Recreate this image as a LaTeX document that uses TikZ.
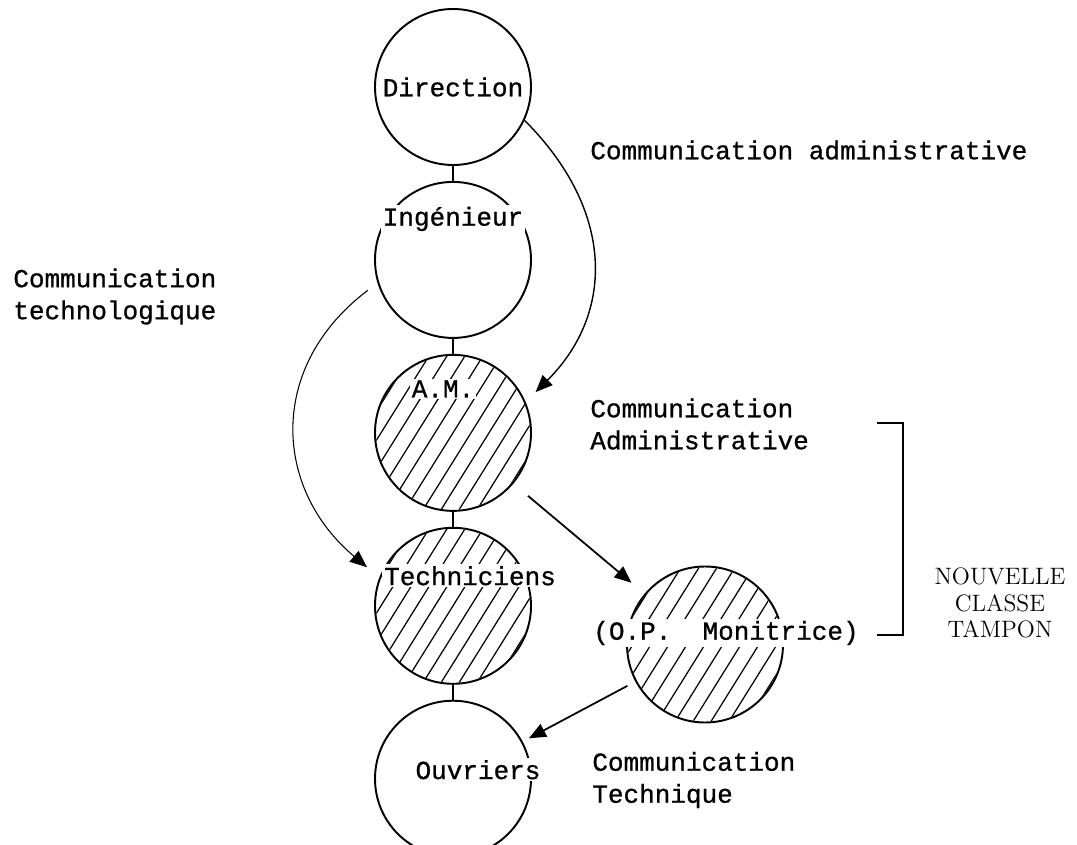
\documentclass[tikz,border=0pt]{standalone}
\usepackage{fontspec}
\usepackage{tikz}
\usetikzlibrary{positioning, arrows.meta}
\newfontfamily\machine[FakeBold=0.8]{Liberation Mono}
\tikzset{
  niveau/.style={circle, draw, line width=1.1pt, minimum size=3.12cm, inner sep=0pt},
  etiquette/.style={fill=white, inner sep=1pt, font=\machine\fontsize{14.8}{18}\selectfont},
  texte/.style={align=left, inner sep=0pt, font=\machine\fontsize{14.8}{18.2}\selectfont},
  tampon/.style={align=center, inner sep=0pt, font=\rmfamily\fontsize{13.5}{15.3}\selectfont},
  fleche/.style={-{Triangle[length=3.4mm, width=2.8mm]}, line width=1pt},
  hachure/.style={line width=0.7pt},
  lien/.style={line width=1.1pt},
}

\begin{document}
\begin{tikzpicture}[node distance=0.3cm]
  \useasboundingbox (0,0) rectangle (21.54,16.88);

  \node[niveau] (dir) at (9.06,15.14) {};
  \node[niveau, below=of dir] (ing) {};
  \node[niveau, below=of ing] (am) {};
  \node[niveau, below=of am] (tech) {};
  \node[niveau, below=of tech] (ouv) {};
  \node[niveau] (mon) at (14.1,3.99) {};

  \draw[lien] (dir) -- (ing) (ing) -- (am) (am) -- (tech) (tech) -- (ouv);

  \foreach \n in {am,tech,mon} {
    \begin{scope}[shift={(\n.center)}]
      \clip (0,0) circle (1.54);
      \foreach \k in {-9,...,9}
        \draw[hachure] (\k*0.36-1.06,-1.7) -- ++(2.12,3.4);
    \end{scope}
  }

  \node[etiquette] (tDir) at (dir) {Direction};
  \node[etiquette, yshift=0.82cm] (tIng) at (ing) {Ingénieur};
  \node[etiquette, xshift=-0.2cm, yshift=0.88cm] (tAM) at (am) {A.M.};
  \node[etiquette, xshift=0.34cm, yshift=0.6cm] (tTech) at (tech) {Techniciens};
  \node[etiquette, xshift=0.5cm, yshift=0.18cm] (tOuv) at (ouv) {Ouvriers};
  \node[etiquette] (tMon) at (14.52,4.22) {(O.P.~~Monitrice)};

  \node[texte, anchor=west] (cAdm) at (11.8,13.88) {Communication administrative};
  \node[texte, anchor=west] (cAdm2) at (11.8,8.4) {Communication\\Administrative};
  \node[texte, anchor=west] (cTechno) at (0.26,10.95) {Communication\\technologique};
  \node[texte, anchor=west] (cTech) at (11.84,1.28) {Communication\\Technique};
  \node[tampon] (nct) at (20.0,4.82) {NOUVELLE\\CLASSE\\TAMPON};

  \draw[lien] (17.54,8.42) -- (18.06,8.42) -- (18.06,4.18) -- (17.54,4.18);

  \draw[fleche, line width=0.8pt, shorten >=0.28cm] (dir.-25) to[out=-45, in=45, looseness=1.15] (am.23);
  \draw[fleche, line width=0.6pt, shorten <=0.24cm, shorten >=0.32cm] (ing.197) to[out=-143, in=140, looseness=1.2] (tech.159);
  \draw[fleche, shorten <=0.38cm, shorten >=0.34cm] (am) -- (mon);
  \draw[fleche, shorten <=0.18cm, shorten >=0.14cm] (mon) -- (ouv);
\end{tikzpicture}
\end{document}
